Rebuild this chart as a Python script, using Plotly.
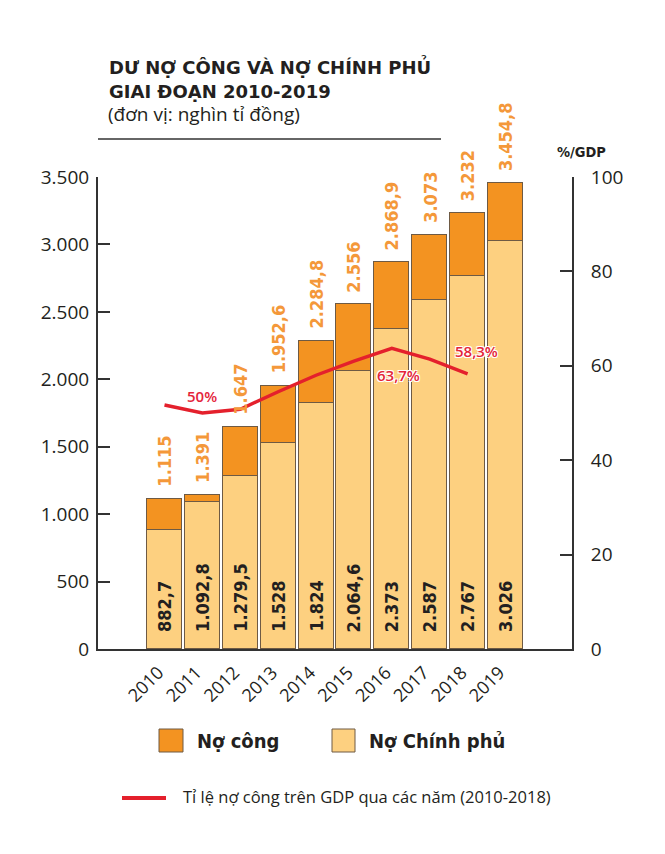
import plotly.graph_objects as go

# ---------------- data ----------------
years = [2010, 2011, 2012, 2013, 2014, 2015, 2016, 2017, 2018, 2019]
# public debt (labels above the bars), thousand billion VND
public_debt = [1115, 1391, 1647, 1952.6, 2284.8, 2556, 2868.9, 3073, 3232, 3454.8]
# height at which each total bar is actually drawn in the reference (2011 is drawn short)
public_debt_drawn = [1115, 1142, 1647, 1952.6, 2284.8, 2556, 2868.9, 3073, 3232, 3454.8]
# government debt (labels inside the bars)
gov_debt = [882.7, 1092.8, 1279.5, 1528, 1824, 2064.6, 2373, 2587, 2767, 3026]
# public debt / GDP (%), 2010-2018
ratio_years = [2010, 2011, 2012, 2013, 2014, 2015, 2016, 2017, 2018]
debt_gdp = [51.7, 50.0, 50.8, 54.5, 58.0, 61.0, 63.7, 61.4, 58.3]
ratio_labels = {2011: "50%", 2016: "63,7%", 2018: "58,3%"}

left_ticks = [0, 500, 1000, 1500, 2000, 2500, 3000, 3500]
right_ticks = [0, 20, 40, 60, 80, 100]

# ---------------- styles ----------------
C_DARK = "#f39321"
C_LIGHT = "#fdd080"
C_OUTLINE = "#6e5a44"
C_LABEL_OR = "#f4983a"
C_RED = "#e4202c"
C_TXT = "#231f20"
F_COND = "DejaVu Sans Condensed, DejaVu Sans, sans-serif"
F_REG = "Open Sans, DejaVu Sans, sans-serif"

def vn(v):
    """Vietnamese number format: '.' thousands, ',' decimal."""
    if float(v).is_integer():
        return f"{int(v):,}".replace(",", ".")
    ip = int(v)
    dec = str(round(v - ip, 1))[2:]
    return f"{ip:,}".replace(",", ".") + "," + dec

top_part = [t - g for t, g in zip(public_debt_drawn, gov_debt)]

fig = go.Figure()
fig.add_trace(go.Bar(x=years, y=gov_debt, name="Nợ Chính phủ", width=0.925,
                     marker=dict(color=C_LIGHT, line=dict(color=C_OUTLINE, width=1)),
                     showlegend=False, hoverinfo="skip"))
fig.add_trace(go.Bar(x=years, y=top_part, name="Nợ công", width=0.925,
                     marker=dict(color=C_DARK, line=dict(color=C_OUTLINE, width=1)),
                     showlegend=False, hoverinfo="skip"))
fig.add_trace(go.Scatter(x=ratio_years, y=debt_gdp, yaxis="y2", mode="lines",
                         line=dict(color=C_RED, width=3.4), showlegend=False,
                         hoverinfo="skip"))

ann = []
# labels above bars
for x, top, lab in zip(years, public_debt_drawn, public_debt):
    ann.append(dict(x=x, y=top, xref="x", yref="y", text=vn(lab), showarrow=False,
                    textangle=-90, yanchor="bottom", xanchor="center", yshift=10,
                    font=dict(family=F_COND, size=18, color=C_LABEL_OR, weight="bold")))
# labels inside bars
for x, g in zip(years, gov_debt):
    ann.append(dict(x=x, y=0, xref="x", yref="y", text=vn(g), showarrow=False,
                    textangle=-90, yanchor="bottom", xanchor="center", yshift=15,
                    font=dict(family=F_COND, size=18, color=C_TXT, weight="bold")))
# ratio labels
offsets = {2011: (0, 17), 2016: (7, -27), 2018: (9, 23)}
for x, v in zip(ratio_years, debt_gdp):
    if x in ratio_labels:
        dx, dy = offsets[x]
        ann.append(dict(x=x, y=v, xref="x", yref="y2", text=ratio_labels[x],
                        showarrow=False, xshift=dx, yshift=dy,
                        font=dict(family=F_REG, size=15, color="#e4253a", weight=600,
                                  shadow="1px 1px 0 #fff, -1px -1px 0 #fff, 1px -1px 0 #fff, -1px 1px 0 #fff")))

# plot area in page pixels: x 98..572, y 177..649 (page has an 8px body margin)
W, H = 474, 472
def px(xp):
    return (xp - 98) / W
def py(yp):
    return (649 - yp) / H

# title block
ann.append(dict(xref="paper", yref="paper", x=px(107), y=py(67), xanchor="left", yanchor="middle",
                text="<b>DƯ NỢ CÔNG VÀ NỢ CHÍNH PHỦ</b>", showarrow=False,
                font=dict(family="DejaVu Sans, sans-serif", size=18, color=C_TXT)))
ann.append(dict(xref="paper", yref="paper", x=px(107), y=py(91), xanchor="left", yanchor="middle",
                text="<b>GIAI ĐOẠN 2010-2019</b>", showarrow=False,
                font=dict(family="DejaVu Sans, sans-serif", size=18, color=C_TXT)))
ann.append(dict(xref="paper", yref="paper", x=px(106), y=py(114), xanchor="left", yanchor="middle",
                text="(đơn vị: nghìn tỉ đồng)", showarrow=False,
                font=dict(family=F_REG, size=19, color=C_TXT)))
ann.append(dict(xref="paper", yref="paper", x=px(581), y=py(152), xanchor="center", yanchor="middle",
                text="<b>%/GDP</b>", showarrow=False,
                font=dict(family=F_COND, size=14.5, color=C_TXT)))

# legend texts
ann.append(dict(xref="paper", yref="paper", x=px(195), y=py(741), xanchor="left", yanchor="middle",
                text="<b>Nợ công</b>", showarrow=False,
                font=dict(family=F_COND, size=20, color=C_TXT)))
ann.append(dict(xref="paper", yref="paper", x=px(367), y=py(741), xanchor="left", yanchor="middle",
                text="<b>Nợ Chính phủ</b>", showarrow=False,
                font=dict(family=F_COND, size=20, color=C_TXT)))
ann.append(dict(xref="paper", yref="paper", x=px(181), y=py(796), xanchor="left", yanchor="middle",
                text="Tỉ lệ nợ công trên GDP qua các năm (2010-2018)", showarrow=False,
                font=dict(family=F_REG, size=16.5, color=C_TXT)))

shapes = [
    dict(type="line", xref="paper", yref="paper", x0=0, x1=px(441), y0=py(139), y1=py(139),
         line=dict(color="#333", width=1.5)),
    dict(type="rect", xref="paper", yref="paper", x0=px(159), x1=px(183), y0=py(729), y1=py(752),
         fillcolor=C_DARK, line=dict(color=C_OUTLINE, width=1)),
    dict(type="rect", xref="paper", yref="paper", x0=px(332), x1=px(355), y0=py(729), y1=py(752),
         fillcolor=C_LIGHT, line=dict(color=C_OUTLINE, width=1)),
    dict(type="line", xref="paper", yref="paper", x0=px(122), x1=px(166), y0=py(798), y1=py(798),
         line=dict(color=C_RED, width=4)),
]

OFF = 8  # browser default body margin
fig.update_layout(
    width=665 - OFF, height=854 - OFF,
    margin=dict(l=98 - OFF, r=665 - 572, t=177 - OFF, b=854 - 649),
    paper_bgcolor="white", plot_bgcolor="white",
    barmode="stack", bargap=0,
    separators=",.",
    showlegend=False,
    annotations=ann, shapes=shapes,
    xaxis=dict(range=[2008.245, 2020.755], tickmode="array", tickvals=years,
               ticktext=[str(y) for y in years], tickangle=-45, ticks="",
               showline=True, linecolor="#333", linewidth=2, showgrid=False, zeroline=False,
               tickfont=dict(family=F_REG, size=18, color=C_TXT), ticklabelstandoff=4,
               ticklabelshift=-6),
    yaxis=dict(range=[0, 3500], tickmode="array", tickvals=left_ticks,
               ticktext=[vn(t) for t in left_ticks], ticks="inside", ticklen=12, tickwidth=2,
               tickcolor="#333", showline=True, linecolor="#333", linewidth=2,
               showgrid=False, zeroline=False, ticklabelstandoff=3,
               tickfont=dict(family=F_REG, size=19, color=C_TXT)),
    yaxis2=dict(range=[0, 100], overlaying="y", side="right", anchor="x",
                tickmode="array", tickvals=right_ticks, ticks="inside", ticklen=12, tickwidth=2,
                tickcolor="#333", showline=True, linecolor="#333", linewidth=2,
                showgrid=False, zeroline=False, ticklabelstandoff=13,
                tickfont=dict(family=F_REG, size=19, color=C_TXT)),
)

fig.write_html("out.html")
